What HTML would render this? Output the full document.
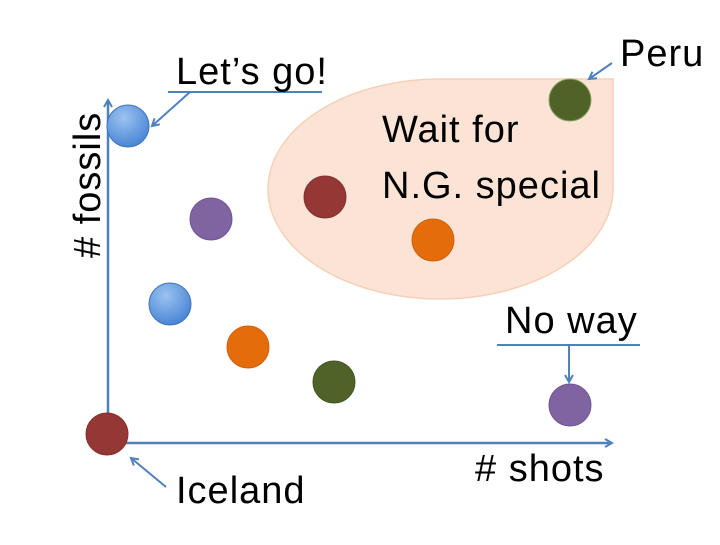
<!DOCTYPE html>
<html><head><meta charset="utf-8"><style>
body{margin:0;background:#fff}
svg text{font-family:"Liberation Sans",sans-serif;fill:#000}
</style></head><body>
<svg width="720" height="540" viewBox="0 0 720 540" xmlns="http://www.w3.org/2000/svg">
<defs>
<marker id="a" markerWidth="10" markerHeight="10" refX="8" refY="5" orient="auto" markerUnits="userSpaceOnUse">
<path d="M1,1 L8,5 L1,9" fill="none" stroke="#4f81bd" stroke-width="2"/></marker>
<radialGradient id="bl" cx="40%" cy="30%" r="70%"><stop offset="0" stop-color="#9cc3f0"/><stop offset="1" stop-color="#4a86d6"/></radialGradient>
</defs>
<path d="M268,189 A172,110 0 0 1 440,79 L613,79 L613,189 A173,110 0 0 1 440,299 A172,110 0 0 1 268,189 Z" fill="#fbe4d5" stroke="#f6d0b8" stroke-width="1.5"/>
<line x1="108" y1="443" x2="108" y2="100" stroke="#4f81bd" stroke-width="2.5" marker-end="url(#a)"/>
<line x1="108" y1="443" x2="612" y2="443" stroke="#4f81bd" stroke-width="2.5" marker-end="url(#a)"/>
<line x1="168" y1="92" x2="322" y2="92" stroke="#4f81bd" stroke-width="2"/>
<line x1="190" y1="92" x2="152" y2="126" stroke="#4f81bd" stroke-width="2" marker-end="url(#a)"/>
<line x1="612" y1="63" x2="589" y2="79" stroke="#4f81bd" stroke-width="2" marker-end="url(#a)"/>
<line x1="497" y1="345" x2="640" y2="345" stroke="#4f81bd" stroke-width="2"/>
<line x1="569" y1="345" x2="569" y2="382" stroke="#4f81bd" stroke-width="2" marker-end="url(#a)"/>
<line x1="166" y1="487" x2="131" y2="458" stroke="#4f81bd" stroke-width="2" marker-end="url(#a)"/>
<g stroke-width="1">
<circle cx="128" cy="126" r="21" fill="url(#bl)" stroke="#3f72b8"/>
<circle cx="211" cy="219" r="21" fill="#8064a2" stroke="#6f5690"/>
<circle cx="170" cy="304" r="21" fill="url(#bl)" stroke="#3f72b8"/>
<circle cx="248" cy="347" r="21" fill="#e46c0a" stroke="#d0600a"/>
<circle cx="334" cy="382" r="21" fill="#4f6228" stroke="#435522"/>
<circle cx="107" cy="434" r="21" fill="#953735" stroke="#84302e"/>
<circle cx="325" cy="197" r="21" fill="#953735" stroke="#84302e"/>
<circle cx="433" cy="240" r="21" fill="#e46c0a" stroke="#d0600a"/>
<circle cx="570" cy="100" r="21" fill="#4f6228" stroke="#8aa35a"/>
<circle cx="570" cy="405" r="21" fill="#8064a2" stroke="#6f5690"/>
</g>
<g font-size="38" letter-spacing="1">
<text x="176" y="84">Let’s go!</text>
<text x="620" y="66">Peru</text>
<text x="382" y="142">Wait for</text>
<text x="382" y="198">N.G. special</text>
<text x="505" y="333">No way</text>
<text x="475" y="481"># shots</text>
<text x="176" y="503">Iceland</text>
<text transform="translate(100,258) rotate(-90)"># fossils</text>
</g>
</svg>
</body></html>
